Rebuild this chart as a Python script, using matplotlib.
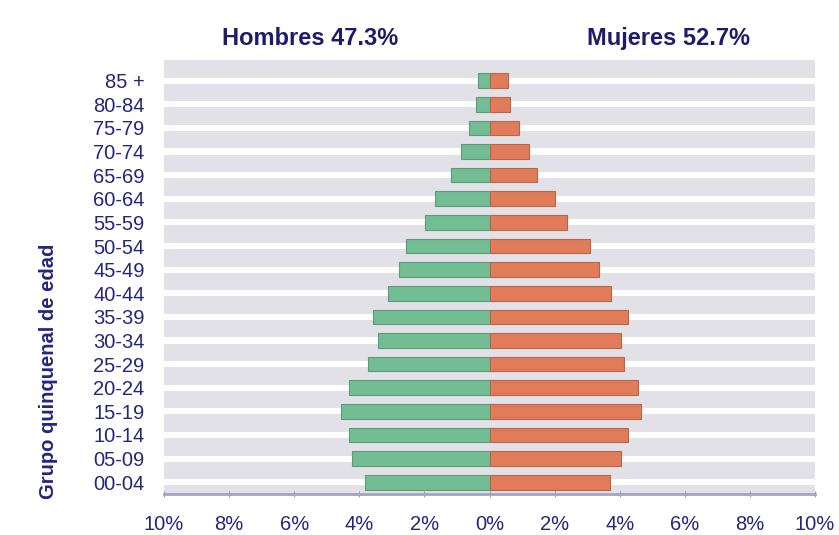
import matplotlib.pyplot as plt
import numpy as np

# grupos de edad (de abajo hacia arriba)
grupos = ['00-04', '05-09', '10-14', '15-19', '20-24', '25-29', '30-34', '35-39',
          '40-44', '45-49', '50-54', '55-59', '60-64', '65-69', '70-74', '75-79',
          '80-84', '85 +']
hombres = [3.82, 4.21, 4.31, 4.56, 4.31, 3.74, 3.42, 3.58, 3.12, 2.78, 2.56,
           1.98, 1.67, 1.17, 0.87, 0.64, 0.43, 0.34]
mujeres = [3.69, 4.04, 4.27, 4.65, 4.57, 4.13, 4.05, 4.24, 3.73, 3.35, 3.09,
           2.39, 2.02, 1.47, 1.21, 0.90, 0.64, 0.58]
xticks = [-10, -8, -6, -4, -2, 0, 2, 4, 6, 8, 10]
titulo_h = 'Hombres 47.3%'
titulo_m = 'Mujeres 52.7%'

navy = '#25257e'
plt.rcParams['font.family'] = ['Liberation Sans', 'DejaVu Sans']

fig = plt.figure(figsize=(8.39, 5.35), dpi=100)
ax = fig.add_axes([0.1955, 0.0766, 0.7759, 0.8114])

y = np.arange(len(grupos))

# bandas grises de fondo
bandas = np.arange(-1, len(grupos)) + 0.5
ax.barh(bandas, [20] * len(bandas), left=-10, height=0.74, color='#e1e1e7', zorder=0)

ax.barh(y, -np.array(hombres), height=0.62, color='#72bd93', edgecolor='#5e9c79',
        linewidth=0.8, zorder=2)
ax.barh(y, mujeres, height=0.62, color='#e17c5b', edgecolor='#b8654a',
        linewidth=0.8, zorder=2)

ax.set_xlim(-10, 10)
ax.set_ylim(-0.5, 17.88)
ax.set_yticks(y)
ax.set_yticklabels(grupos, fontsize=14.5, color=navy)
ax.set_xticks(xticks)
ax.set_xticklabels(['%d%%' % abs(v) for v in xticks], fontsize=14.5, color=navy)
ax.tick_params(axis='y', length=0, pad=14)
ax.tick_params(axis='x', length=4, direction='inout', color='#9a9ab8', pad=13)

for s in ['top', 'left', 'right']:
    ax.spines[s].set_visible(False)
ax.spines['bottom'].set_color('#a4a4c0')
ax.spines['bottom'].set_linewidth(2)

ax.set_ylabel('Grupo quinquenal de edad', fontsize=14.5, fontweight='bold',
              color=navy, va='center')
ax.yaxis.set_label_coords(-0.178, 0.283)

fig.text(0.37, 0.928, titulo_h, fontsize=17, fontweight='bold', color='#1c1c6a',
         ha='center', va='center')
fig.text(0.797, 0.928, titulo_m, fontsize=17, fontweight='bold', color='#1c1c6a',
         ha='center', va='center')

fig.savefig('out.png', dpi=100)
